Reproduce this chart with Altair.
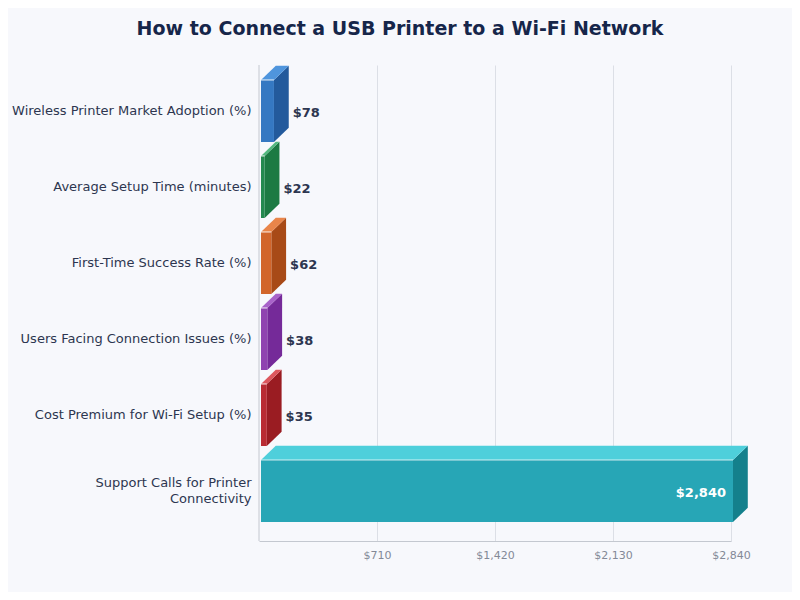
import altair as alt
import pandas as pd

categories = ["Wireless Printer Market Adoption (%)", "Average Setup Time (minutes)",
              "First-Time Success Rate (%)", "Users Facing Connection Issues (%)",
              "Cost Premium for Wi-Fi Setup (%)", "Support Calls for Printer\nConnectivity"]
values = [78, 22, 62, 38, 35, 2840]
value_labels = ["$78", "$22", "$62", "$38", "$35", "$2,840"]
front_colors = ["#3578c2", "#23894f", "#d2652b", "#8f43b0", "#b92b33", "#27a6b6"]
top_colors = ["#4f95dd", "#53b87f", "#e9854a", "#a862c9", "#dd575e", "#4ecfdb"]
side_colors = ["#235a9c", "#1c7a43", "#a84a17", "#752a99", "#9a1c22", "#14808c"]
ticks = [710, 1420, 2130, 2840]

# Geometry expressed in scale units
START = 12        # bars start slightly right of the axis
DEPTH_X = 89      # extrusion in value units
DEPTH_Y = 0.187   # extrusion in row units
HALF = 0.408      # half bar thickness in row units
LINE = 0.105      # half a label line in row units
W, H = 472, 476

rows, sides, tops = [], [], []
for i, (c, v, fc, tc, sc, vl) in enumerate(zip(categories, values, front_colors, top_colors, side_colors, value_labels)):
    x0, x1 = START, START + v
    rows.append(dict(i=i, ly=i - LINE * c.count("\n"), top=i - HALF, bottom=i + HALF, x0=x0, x1=x1,
                     xs=x1 + DEPTH_X, cat=c, color=fc, label=vl, big=v > 1000))
    sides.append(dict(i=i, x=x1, y=i - HALF, y2=i + HALF, color=sc))
    sides.append(dict(i=i, x=x1 + DEPTH_X, y=i - HALF - DEPTH_Y, y2=i + HALF - DEPTH_Y, color=sc))
    tops.append(dict(i=i, y=i - HALF, x=x0, x2=x1, color=tc))
    tops.append(dict(i=i, y=i - HALF - DEPTH_Y, x=x0 + DEPTH_X, x2=x1 + DEPTH_X, color=tc))
rows = pd.DataFrame(rows)
sides = pd.DataFrame(sides)
tops = pd.DataFrame(tops)

xs = alt.Scale(domain=[0, 2840], nice=False, zero=False, clamp=False)
ys = alt.Scale(domain=[-0.605, 5.658], reverse=True, nice=False, zero=False)
xq = alt.X("x:Q", scale=xs, title=None, stack=None)
yq = alt.Y("y:Q", scale=ys, title=None, axis=None)
nocolor = alt.Color("color:N", scale=None, legend=None)

base_axis = alt.Chart(pd.DataFrame({"t": ticks})).mark_rule(opacity=0).encode(
    x=alt.X("t:Q", scale=xs, title=None, axis=alt.Axis(
        values=ticks, format="$,d", grid=True, gridColor="#dcdfe6", gridWidth=1, ticks=False,
        domainColor="#c4c8d0", domainWidth=1, labelColor="#838997", labelFontSize=11,
        labelFont="DejaVu Sans", labelPadding=8, labelOverlap=False, labelFlush=False,
        labelBound=False)))
left = alt.Chart(pd.DataFrame({"z": [0]})).mark_rule(color="#c4c8d0", strokeWidth=1).encode(
    x=alt.X("z:Q", scale=xs))

side = alt.Chart(sides).mark_area(orient="vertical", interpolate="linear").encode(
    x=xq, y=yq, y2="y2:Q", color=nocolor, detail="i:N")
top = alt.Chart(tops).mark_area(orient="horizontal", interpolate="linear").encode(
    y=yq, x=xq, x2="x2:Q", color=nocolor, detail="i:N")
front = alt.Chart(rows).mark_rect().encode(
    x=alt.X("x0:Q", scale=xs), x2="x1:Q",
    y=alt.Y("top:Q", scale=ys, axis=None), y2="bottom:Q", color=nocolor)
shine = alt.Chart(rows).mark_rule(color="#ffffff", strokeWidth=1.2, opacity=0.75).encode(
    x=alt.X("x0:Q", scale=xs), x2="x1:Q", y=alt.Y("top:Q", scale=ys, axis=None))

cat_text = alt.Chart(rows).mark_text(align="right", baseline="middle", lineBreak="\n", lineHeight=16,
                                     fontSize=13, font="DejaVu Sans", color="#2d3650").encode(
    x=alt.value(-7.5), y=alt.Y("ly:Q", scale=ys, axis=None), text="cat:N")
outer = alt.Chart(rows[~rows.big]).mark_text(align="left", baseline="middle", dx=4, dy=2, fontSize=13,
                                             fontWeight="bold", font="DejaVu Sans", color="#2d3650").encode(
    x=alt.X("xs:Q", scale=xs), y=alt.Y("i:Q", scale=ys, axis=None), text="label:N")
inner = alt.Chart(rows[rows.big]).mark_text(align="right", baseline="middle", dx=-7, dy=2, fontSize=13,
                                            fontWeight="bold", font="DejaVu Sans", color="#ffffff").encode(
    x=alt.X("x1:Q", scale=xs), y=alt.Y("i:Q", scale=ys, axis=None), text="label:N")

chart = alt.layer(base_axis, left, side, top, front, shine, cat_text, outer, inner).properties(
    width=W, height=H, background="#f7f8fc",
    autosize=alt.AutoSizeParams(type="none"),
    padding={"left": 251, "top": 57, "right": 61, "bottom": 51},
    title=alt.TitleParams("How to Connect a USB Printer to a Wi-Fi Network", font="DejaVu Sans",
                          fontSize=19, fontWeight="bold", color="#16264a", anchor="middle",
                          dx=-95, offset=26),
).configure_view(stroke=None)

chart.save("out.html", embed_options={"renderer": "svg", "actions": False})
